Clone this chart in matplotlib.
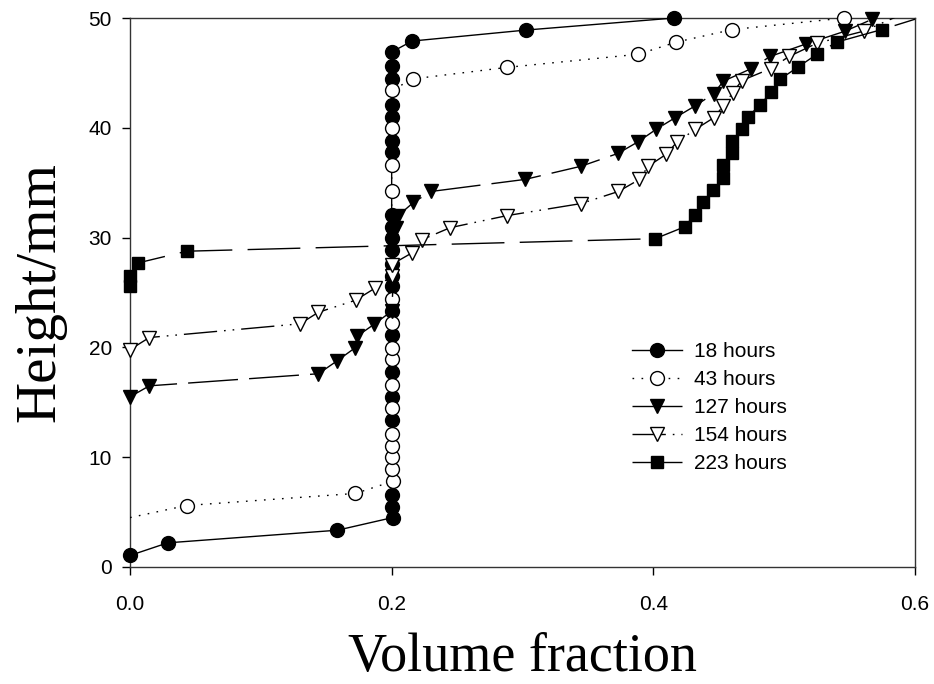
import numpy as np
import matplotlib
matplotlib.use('Agg')
import matplotlib.pyplot as plt
from matplotlib.lines import Line2D

# 18 hours
x_18h = [0.0, 0.0288, 0.1585, 0.2007, 0.2, 0.2, 0.2, 0.2, 0.2, 0.2, 0.2, 0.2, 0.2, 0.2, 0.2,
         0.2, 0.2, 0.2, 0.2, 0.2, 0.2, 0.2, 0.2, 0.2, 0.2, 0.2156, 0.3025, 0.416]
y_18h = [1.05, 2.2, 3.35, 4.5, 5.5, 6.6, 13.4, 15.5, 17.8, 21.1, 23.3, 25.6, 26.5, 27.6, 28.9,
         30.0, 31.0, 32.1, 37.8, 38.8, 41.0, 42.1, 44.4, 45.6, 46.9, 47.9, 48.9, 50.0]

# 43 hours
x_43h = [0.0, 0.0433, 0.1723, 0.2007, 0.2, 0.2, 0.2, 0.2, 0.2, 0.2, 0.2, 0.2, 0.2, 0.2,
         0.2, 0.2, 0.2, 0.2, 0.216, 0.288, 0.3886, 0.4174, 0.4605, 0.546]
y_43h = [4.5, 5.6, 6.7, 7.8, 8.9, 10.0, 11.0, 12.1, 14.5, 16.6, 18.9, 19.9, 22.2, 24.4,
         34.2, 36.6, 40.0, 43.4, 44.45, 45.5, 46.7, 47.8, 48.95, 50.0]

# 127 hours
x_127h = [0.0, 0.0148, 0.144, 0.158, 0.172, 0.1733, 0.1865, 0.2, 0.2035, 0.205, 0.2166, 0.23,
          0.302, 0.3448, 0.3728, 0.388, 0.402, 0.4164, 0.432, 0.446, 0.4536, 0.475, 0.4893,
          0.517, 0.5466, 0.5675]
y_127h = [15.5, 16.5, 17.6, 18.75, 19.96, 21.0, 22.1, 23.3, 30.9, 32.0, 33.2, 34.2,
          35.3, 36.5, 37.66, 38.7, 39.85, 40.9, 42.0, 43.1, 44.25, 45.4, 46.5,
          47.65, 48.8, 49.9]

# 154 hours
x_154h = [0.0, 0.0148, 0.13, 0.144, 0.1725, 0.1873, 0.2, 0.2, 0.2154, 0.223, 0.2446, 0.288,
          0.3448, 0.3733, 0.3894, 0.396, 0.41, 0.418, 0.432, 0.446, 0.4536, 0.4607, 0.4676,
          0.4898, 0.5038, 0.525, 0.5607, 0.595]
y_154h = [19.8, 20.9, 22.15, 23.2, 24.3, 25.4, 26.5, 27.55, 28.6, 29.8, 30.9, 32.0,
          33.1, 34.2, 35.3, 36.5, 37.6, 38.7, 39.85, 40.9, 42.0, 43.2, 44.3,
          45.4, 46.5, 47.7, 48.8, 50.6]

# 223 hours
x_223h = [0.0, 0.0, 0.0064, 0.0433, 0.4014, 0.4243, 0.4315, 0.4383, 0.4455, 0.4536, 0.453,
          0.46, 0.4605, 0.4676, 0.472, 0.4817, 0.49, 0.4965, 0.5102, 0.525, 0.54, 0.5747, 0.63]
y_223h = [25.6, 26.5, 27.7, 28.76, 29.9, 31.0, 32.1, 33.2, 34.3, 35.45, 36.6,
          37.66, 38.8, 39.9, 40.97, 42.1, 43.25, 44.4, 45.5, 46.7, 47.8, 48.95, 51.0]

labels = ['18 hours', '43 hours', '127 hours', '154 hours', '223 hours']

fig = plt.figure(figsize=(9.34, 6.84), dpi=100)
ax = fig.add_axes([130 / 934, 1 - 567 / 684, 785 / 934, 549 / 684])

styles = [
    (x_18h, y_18h, 'o', 'black', '-', 10, 3, False),
    (x_43h, y_43h, 'o', 'white', (0, (1.2, 5.3)), 10, 4, True),
    (x_127h, y_127h, 'v', 'black', (0, (36, 8)), 10, 5, False),
    (x_154h, y_154h, 'v', 'white', (0, (24, 5, 1.2, 5, 1.2, 5)), 10, 6, False),
    (x_223h, y_223h, 's', 'black', (0, (38, 11)), 9, 7, False),
]

handles = []
for (x, y, mk, face, ls, ms, z, skip_first), lab in zip(styles, labels):
    x = np.asarray(x)
    y = np.asarray(y)
    inside = (x <= 0.6) & (y <= 50.05)
    if skip_first:
        inside[0] = False
    ax.plot(x, y, color='black', lw=1.0, ls=ls, zorder=z)
    ax.plot(x[inside], y[inside], ls='none', marker=mk, ms=ms, mfc=face,
            mec='black', mew=1.0, clip_on=False, zorder=z + 0.5)
    handles.append(Line2D([], [], color='black', lw=1.0, ls=ls, marker=mk, ms=ms,
                          mfc=face, mec='black', mew=1.0))

ax.set_xlim(0, 0.6)
ax.set_ylim(0, 50)
ax.set_xticks([0.0, 0.2, 0.4, 0.6])
ax.set_xticklabels(['0.0', '0.2', '0.4', '0.6'])
ax.set_yticks([0, 10, 20, 30, 40, 50])
for sp in ax.spines.values():
    sp.set_linewidth(1.0)
    sp.set_color('#333333')
ax.tick_params(direction='out', length=6, width=1.0, labelsize=15, pad=7)
ax.tick_params(axis='x', pad=14)
for t in ax.get_xticklabels() + ax.get_yticklabels():
    t.set_fontfamily('Liberation Sans')

fig.text(522 / 934, 1 / 684, 'Volume fraction', fontsize=39, family='Liberation Serif',
         ha='center', va='bottom')
ax.set_ylabel('Height/mm', fontsize=41, family='Liberation Serif', labelpad=16)

leg = fig.legend(handles, labels, loc='upper left', frameon=False,
                 bbox_to_anchor=(632 / 934, 1 - 342 / 684), bbox_transform=fig.transFigure,
                 borderpad=0, borderaxespad=0, handlelength=2.4, handletextpad=0.6,
                 labelspacing=0.43, prop={'family': 'Liberation Sans', 'size': 15})

fig.savefig('out.png', dpi=100)
